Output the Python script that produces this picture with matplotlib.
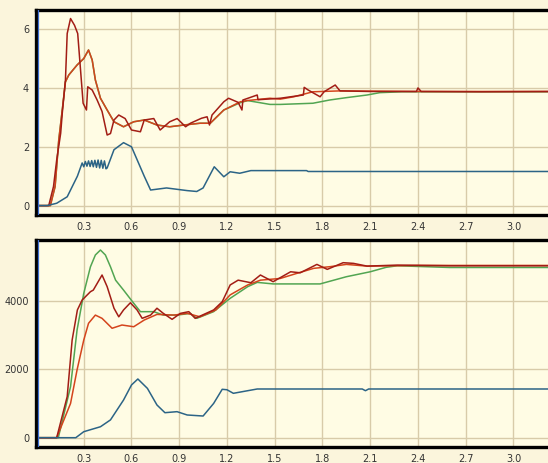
import matplotlib
matplotlib.use("Agg")
import matplotlib.pyplot as plt

# ---- top panel ----
top_red_t = [0, 0.08, 0.11, 0.13, 0.155, 0.165, 0.185, 0.196, 0.217, 0.242, 0.262, 0.28, 0.296,
             0.317, 0.325, 0.353, 0.384, 0.415, 0.447, 0.468, 0.49, 0.52, 0.56, 0.60, 0.656,
             0.68, 0.74, 0.78, 0.84, 0.887, 0.94, 0.97, 1.04, 1.075, 1.09, 1.106, 1.18, 1.21,
             1.27, 1.294, 1.30, 1.39, 1.395, 1.535, 1.68, 1.685, 1.71, 1.785, 1.81, 1.88, 1.91,
             2.1, 2.39, 2.40, 2.42, 2.8, 3.25]
top_red_v = [0, 0, 0.65, 1.55, 2.46, 3.14, 4.27, 5.85, 6.36, 6.13, 5.85, 4.6, 3.48,
             3.25, 4.04, 3.93, 3.59, 3.2, 2.4, 2.45, 2.91, 3.08, 2.96, 2.57, 2.51,
             2.91, 2.96, 2.57, 2.85, 2.96, 2.68, 2.8, 2.97, 3.02, 2.74, 3.08, 3.53, 3.65,
             3.51, 3.25, 3.59, 3.76, 3.6, 3.65, 3.76, 4.02, 3.93, 3.7, 3.87, 4.1, 3.9,
             3.88, 3.88, 4.0, 3.88, 3.87, 3.88]

top_orange_t = [0, 0.09, 0.12, 0.143, 0.165, 0.185, 0.206, 0.258, 0.30, 0.33, 0.353, 0.373,
                0.405, 0.447, 0.49, 0.55, 0.614, 0.68, 0.76, 0.84, 0.93, 1.03, 1.095, 1.18,
                1.284, 1.326, 1.47, 1.535, 1.62, 1.74, 1.91, 2.4, 3.25]
top_orange_v = [0, 0, 0.65, 2.23, 3.25, 4.21, 4.44, 4.78, 5.0, 5.29, 4.95, 4.27,
                3.65, 3.25, 2.85, 2.68, 2.85, 2.91, 2.74, 2.68, 2.74, 2.8, 2.8, 3.25,
                3.53, 3.57, 3.65, 3.62, 3.7, 3.87, 3.9, 3.88, 3.88]

top_green_t = [0, 0.09, 0.12, 0.143, 0.165, 0.185, 0.206, 0.258, 0.30, 0.33, 0.353, 0.373,
               0.405, 0.447, 0.49, 0.55, 0.614, 0.68, 0.76, 0.84, 0.93, 1.03, 1.095, 1.18,
               1.284, 1.33, 1.47, 1.535, 1.74, 1.845, 1.95, 2.08, 2.16, 2.3, 3.25]
top_green_v = [0, 0, 0.65, 2.23, 3.25, 4.21, 4.44, 4.78, 5.0, 5.29, 4.95, 4.27,
               3.65, 3.25, 2.85, 2.68, 2.85, 2.91, 2.74, 2.68, 2.74, 2.8, 2.8, 3.25,
               3.5, 3.57, 3.44, 3.44, 3.48, 3.59, 3.67, 3.76, 3.84, 3.87, 3.87]

top_blue_t = [0, 0.07, 0.13, 0.196, 0.26, 0.29, 0.30, 0.31, 0.32, 0.33, 0.34, 0.35, 0.36,
              0.37, 0.38, 0.39, 0.40, 0.41, 0.42, 0.43, 0.44, 0.447, 0.49, 0.55, 0.60,
              0.68, 0.72, 0.82, 0.95, 1.01, 1.05, 1.12, 1.18, 1.22, 1.28, 1.35, 1.7, 1.71, 3.25]
top_blue_v = [0, 0, 0.08, 0.3, 1.0, 1.45, 1.32, 1.5, 1.34, 1.52, 1.33, 1.53, 1.32,
              1.54, 1.3, 1.55, 1.28, 1.54, 1.27, 1.52, 1.25, 1.28, 1.9, 2.14, 2.0,
              1.0, 0.53, 0.6, 0.51, 0.48, 0.6, 1.32, 0.98, 1.15, 1.1, 1.19, 1.19, 1.16, 1.16]

# ---- bottom panel ----
bot_red_t = [0, 0.13, 0.196, 0.227, 0.26, 0.29, 0.342, 0.36, 0.415, 0.447, 0.49, 0.52, 0.55,
             0.593, 0.635, 0.667, 0.72, 0.76, 0.80, 0.855, 0.907, 0.96, 1.0, 1.116, 1.17,
             1.22, 1.27, 1.35, 1.41, 1.49, 1.6, 1.66, 1.765, 1.83, 1.93, 1.995, 2.08, 2.27,
             2.6, 3.25]
bot_red_v = [0, 0, 1200, 2850, 3730, 4020, 4263, 4310, 4750, 4410, 3780, 3530, 3730,
             3940, 3730, 3485, 3580, 3780, 3630, 3456, 3630, 3680, 3485, 3730, 3970,
             4460, 4600, 4525, 4750, 4555, 4845, 4815, 5060, 4915, 5110, 5090, 5010, 5040,
             5020, 5020]

bot_orange_t = [0, 0.13, 0.217, 0.258, 0.30, 0.33, 0.373, 0.415, 0.478, 0.54, 0.614, 0.68,
                0.76, 0.866, 0.95, 1.03, 1.13, 1.22, 1.33, 1.41, 1.535, 1.64, 1.745, 1.85,
                1.95, 2.08, 2.4, 3.25]
bot_orange_v = [0, 0, 1000, 1980, 2850, 3340, 3580, 3485, 3195, 3290, 3240, 3436,
                3600, 3580, 3630, 3530, 3730, 4170, 4460, 4600, 4650, 4800, 4945, 4995,
                5060, 5010, 5030, 5030]

bot_green_t = [0, 0.14, 0.217, 0.258, 0.30, 0.342, 0.373, 0.405, 0.436, 0.468, 0.5, 0.55,
               0.614, 0.656, 0.74, 0.80, 0.886, 0.97, 1.01, 1.116, 1.22, 1.33, 1.39, 1.49,
               1.785, 1.95, 2.1, 2.2, 2.27, 2.6, 3.25]
bot_green_v = [0, 0, 1490, 3145, 4215, 4990, 5335, 5480, 5335, 4990, 4600, 4310,
               3925, 3680, 3680, 3580, 3580, 3630, 3485, 3680, 4070, 4410, 4535, 4490,
               4490, 4700, 4845, 4975, 5020, 4970, 4970]

bot_blue_t = [0, 0.25, 0.30, 0.405, 0.468, 0.55, 0.60, 0.64, 0.70, 0.76, 0.81, 0.886,
              0.95, 1.05, 1.116, 1.17, 1.2, 1.24, 1.33, 1.39, 2.05, 2.07, 2.09, 3.25]
bot_blue_v = [0, 0, 175, 320, 520, 1100, 1540, 1714, 1440, 955, 730, 760,
              663, 633, 1000, 1413, 1400, 1296, 1372, 1422, 1422, 1372, 1422, 1422]

x_ticks = [0.3, 0.6, 0.9, 1.2, 1.5, 1.8, 2.1, 2.4, 2.7, 3.0]
top_yticks = [0, 2, 4, 6]
bot_yticks = [0, 2000, 4000]

DARKRED = "#a21d15"
ORANGE = "#d4441c"
GREEN = "#52a552"
BLUE = "#2c6486"
OUTER = "#fbf5dc"
INNER = "#fffce4"
GRID = "#d8cba9"


def style_axes(ax, yticks, ylim):
    ax.set_facecolor(INNER)
    ax.set_xlim(0, 3.217)
    ax.set_ylim(*ylim)
    ax.set_xticks(x_ticks)
    ax.set_xticklabels([f"{t:.1f}" for t in x_ticks])
    ax.set_yticks(yticks)
    ax.set_yticklabels([str(y) for y in yticks])
    ax.tick_params(length=0, labelsize=7, colors="#333333", pad=5)
    ax.grid(True, color=GRID, lw=1.0)
    ax.set_axisbelow(True)
    for side in ("top", "left", "bottom"):
        ax.spines[side].set_color("black")
        ax.spines[side].set_linewidth(2.4)
    ax.spines["right"].set_visible(False)
    # thin blue line just inside the left border
    ax.axvline(0.012, color="#3a6cd0", lw=0.9, zorder=5)


fig = plt.figure(figsize=(5.48, 4.63), dpi=100, facecolor=OUTER)
ax1 = fig.add_axes([0.0657, 0.5356, 1.0 - 0.0657, 0.9784 - 0.5356])
ax2 = fig.add_axes([0.0657, 0.0352, 1.0 - 0.0657, 0.4816 - 0.0352])

style_axes(ax1, top_yticks, (-0.32, 6.65))
style_axes(ax2, bot_yticks, (-263, 5772))

lw = 1.1
ax1.plot(top_green_t, top_green_v, color=GREEN, lw=lw)
ax1.plot(top_orange_t, top_orange_v, color=ORANGE, lw=lw)
ax1.plot(top_red_t, top_red_v, color=DARKRED, lw=lw)
ax1.plot(top_blue_t, top_blue_v, color=BLUE, lw=lw)

ax2.plot(bot_green_t, bot_green_v, color=GREEN, lw=lw)
ax2.plot(bot_orange_t, bot_orange_v, color=ORANGE, lw=lw)
ax2.plot(bot_red_t, bot_red_v, color=DARKRED, lw=lw)
ax2.plot(bot_blue_t, bot_blue_v, color=BLUE, lw=lw)

fig.savefig("out.png", dpi=100, facecolor=OUTER)
